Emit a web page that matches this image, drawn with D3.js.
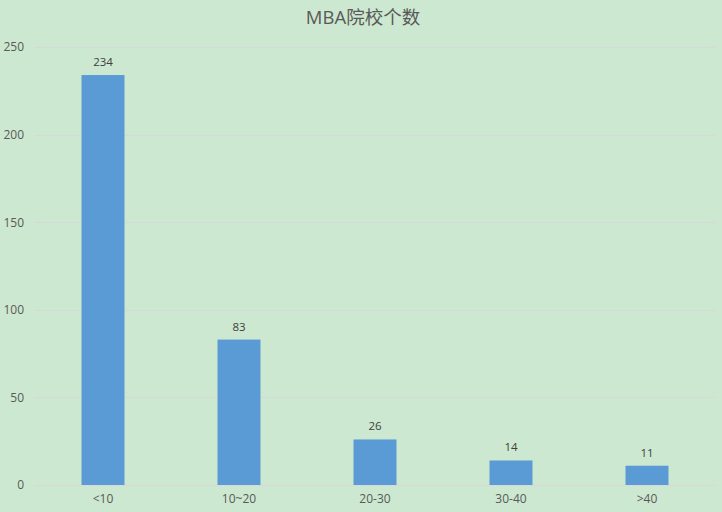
<!DOCTYPE html>
<html>
<head>
<meta charset="utf-8">
<title>MBA院校个数</title>
<script src="https://d3js.org/d3.v7.min.js"></script>
<style>
  body { margin: 0; background: #cde8d0; }
  text { font-family: "Open Sans", "Noto Sans CJK SC", sans-serif; }
</style>
</head>
<body>
<script>
var categories = ["<10", "10~20", "20-30", "30-40", ">40"];
var counts = [234, 83, 26, 14, 11];
var yTicks = [0, 50, 100, 150, 200, 250];

var w = 722, h = 512;
var plotLeft = 35, plotRight = 715, plotTop = 47, plotBottom = 485;

var svg = d3.select("body").append("svg")
  .attr("width", w)
  .attr("height", h);

svg.append("rect")
  .attr("width", w).attr("height", h)
  .attr("fill", "#cde8d0");

var xScale = d3.scaleBand()
  .domain(categories)
  .range([plotLeft, plotRight])
  .paddingInner(0.684)
  .paddingOuter(0.342);

var yScale = d3.scaleLinear()
  .domain([0, 250])
  .range([plotBottom, plotTop]);

// gridlines
svg.append("g")
  .selectAll("line")
  .data(yTicks)
  .enter()
  .append("line")
  .attr("x1", plotLeft)
  .attr("x2", plotRight)
  .attr("y1", function(d) { return Math.round(yScale(d)) + 0.5; })
  .attr("y2", function(d) { return Math.round(yScale(d)) + 0.5; })
  .attr("stroke", "#d8d8d8")
  .attr("stroke-width", 1);

// y axis labels
var yAxis = d3.axisLeft(yScale).tickValues(yTicks).tickSize(0).tickPadding(11);
var yG = svg.append("g")
  .attr("transform", "translate(" + plotLeft + ",0)")
  .call(yAxis);
yG.select(".domain").remove();
yG.selectAll("text").attr("fill", "#595959").attr("font-size", "12px");

// x axis labels
var xAxis = d3.axisBottom(xScale).tickSize(0).tickPadding(9);
var xG = svg.append("g")
  .attr("transform", "translate(0," + plotBottom + ")")
  .call(xAxis);
xG.select(".domain").remove();
xG.selectAll("text").attr("fill", "#595959").attr("font-size", "12px");

// bars
svg.selectAll("rect.bar")
  .data(counts)
  .enter()
  .append("rect")
  .attr("class", "bar")
  .attr("x", function(d, i) { return xScale(categories[i]); })
  .attr("y", function(d) { return yScale(d); })
  .attr("width", xScale.bandwidth())
  .attr("height", function(d) { return plotBottom - yScale(d); })
  .attr("fill", "#5b9bd5");

// data labels
svg.selectAll("text.val")
  .data(counts)
  .enter()
  .append("text")
  .attr("class", "val")
  .attr("x", function(d, i) { return xScale(categories[i]) + xScale.bandwidth() / 2; })
  .attr("y", function(d) { return yScale(d) - 9; })
  .attr("text-anchor", "middle")
  .attr("font-size", "11.5px")
  .attr("fill", "#404040")
  .text(function(d) { return d; });

// title
svg.append("text")
  .attr("x", 363)
  .attr("y", 24)
  .attr("text-anchor", "middle")
  .attr("font-size", "18.5px")
  .attr("fill", "#595959")
  .text("MBA院校个数");
</script>
</body>
</html>
